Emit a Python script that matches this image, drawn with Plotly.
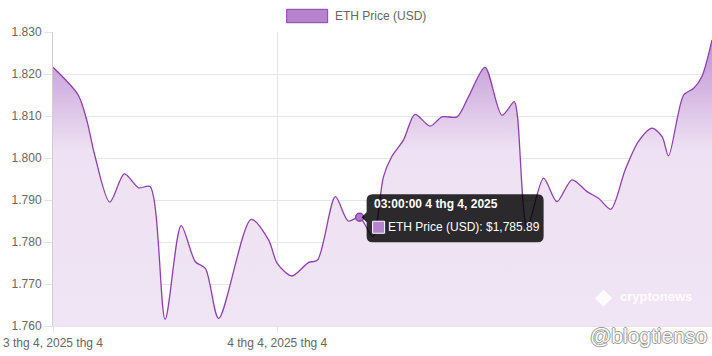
import plotly.graph_objects as go

# ---- data ----
times = [
    "2025-04-03 15:50", "2025-04-03 16:45", "2025-04-03 17:05", "2025-04-03 17:20",
    "2025-04-03 17:54", "2025-04-03 18:26", "2025-04-03 18:57", "2025-04-03 19:22",
    "2025-04-03 19:55", "2025-04-03 20:30", "2025-04-03 21:01", "2025-04-03 21:23",
    "2025-04-03 21:52", "2025-04-03 23:03", "2025-04-03 23:41", "2025-04-04 00:00",
    "2025-04-04 00:32", "2025-04-04 01:08", "2025-04-04 01:28", "2025-04-04 02:07",
    "2025-04-04 02:35", "2025-04-04 03:00", "2025-04-04 03:29", "2025-04-04 03:52",
    "2025-04-04 04:10", "2025-04-04 04:36", "2025-04-04 05:01", "2025-04-04 05:34",
    "2025-04-04 06:00", "2025-04-04 06:33", "2025-04-04 06:58", "2025-04-04 07:34",
    "2025-04-04 08:11", "2025-04-04 08:38", "2025-04-04 08:45", "2025-04-04 09:06",
    "2025-04-04 09:42", "2025-04-04 10:11", "2025-04-04 10:44", "2025-04-04 11:17",
    "2025-04-04 11:42", "2025-04-04 12:09", "2025-04-04 12:40", "2025-04-04 13:09",
    "2025-04-04 13:39", "2025-04-04 14:01", "2025-04-04 14:15", "2025-04-04 14:48",
    "2025-04-04 15:10", "2025-04-04 15:28", "2025-04-04 15:50",
]
prices = [
    1821.6, 1815.0, 1808.5, 1801.2,
    1789.5, 1796.2, 1792.9, 1793.2,
    1761.6, 1783.9, 1775.3, 1773.7,
    1761.8, 1785.4, 1780.5, 1774.9,
    1771.9, 1775.1, 1775.7, 1790.8,
    1785.0, 1785.89, 1781.3, 1795.5,
    1800.3, 1804.3, 1810.4, 1807.6,
    1809.8, 1809.8, 1814.6, 1821.6,
    1810.2, 1813.4, 1809.8, 1783.5,
    1795.2, 1789.6, 1794.8, 1792.0,
    1790.4, 1787.8, 1797.1, 1803.9,
    1807.1, 1805.1, 1800.5, 1815.0,
    1816.6, 1819.4, 1828.1,
]
series_name = "ETH Price (USD)"
x_tick_vals = ["2025-04-03 15:50", "2025-04-04 00:00"]
x_tick_text = ["3 thg 4, 2025 thg 4", "4 thg 4, 2025 thg 4"]
y_tick_vals = [1760, 1770, 1780, 1790, 1800, 1810, 1820, 1830]
hover_time = "2025-04-04 03:00"
hover_price = 1785.89
hover_title = "03:00:00 4 thg 4, 2025"

LINE = "#8e3fae"
SWATCH = "#b683cf"
FONT = "Liberation Sans, Arial, Helvetica, sans-serif"
GRID = "#e5e5e5"

fig = go.Figure()
fig.add_trace(go.Scatter(
    x=times, y=prices, name=series_name, mode="lines", showlegend=False,
    line=dict(color=LINE, width=1.3, shape="spline", smoothing=0.8),
    fill="tozeroy",
    fillgradient=dict(type="vertical", start=1760, stop=1830,
                      colorscale=[[0, "rgba(240,229,244,1)"],
                                  [0.6, "rgba(238,225,243,1)"],
                                  [1, "rgba(188,142,209,1)"]]),
    fillcolor="rgba(180,130,200,0.8)",
    hoverinfo="skip",
))
fig.add_trace(go.Scatter(
    x=[hover_time], y=[hover_price], mode="markers", showlegend=False,
    marker=dict(size=8, color="rgba(180,120,205,1)", line=dict(color=LINE, width=1.5)),
    hoverinfo="skip",
))

# ---- legend (Chart.js style box + label) ----
fig.add_shape(type="rect", xref="paper", yref="paper",
              x0=0.3546, x1=0.4168, y0=1.0316, y1=1.0772,
              fillcolor=SWATCH, line=dict(color=LINE, width=1))
fig.add_annotation(xref="paper", yref="paper", x=0.4249, y=1.0544,
                   xanchor="left", yanchor="middle", showarrow=False,
                   text=series_name, font=dict(family=FONT, size=12, color="#666"))

# ---- tooltip ----
tip_path = ("M 13,23 L 178,23 Q 184,23 184,17 L 184,-19 Q 184,-25 178,-25 "
            "L 13,-25 Q 7,-25 7,-19 L 7,-5 L 2,0 L 7,5 L 7,17 Q 7,23 13,23 Z")
fig.add_shape(type="path", xref="x", yref="y",
              xsizemode="pixel", ysizemode="pixel",
              xanchor=hover_time, yanchor=hover_price,
              path=tip_path, fillcolor="rgba(0,0,0,0.82)", line=dict(width=0))
fig.add_shape(type="rect", xref="x", yref="y",
              xsizemode="pixel", ysizemode="pixel",
              xanchor=hover_time, yanchor=hover_price,
              x0=13, x1=25, y0=-16, y1=-4,
              fillcolor=SWATCH, line=dict(color="white", width=1))
fig.add_annotation(x=hover_time, y=hover_price, xref="x", yref="y",
                   xanchor="left", yanchor="middle", xshift=12, yshift=13,
                   showarrow=False, text=f"<b>{hover_title}</b>",
                   font=dict(family=FONT, size=12, color="white"))
fig.add_annotation(x=hover_time, y=hover_price, xref="x", yref="y",
                   xanchor="left", yanchor="middle", xshift=26, yshift=-10,
                   showarrow=False, text=f"{series_name}: ${hover_price:,.2f}",
                   font=dict(family=FONT, size=12, color="white"))

# ---- watermarks ----
fig.add_annotation(xref="paper", yref="paper", x=0.857, y=0.099,
                   xanchor="left", yanchor="middle", showarrow=False,
                   text="<b>cryptonews</b>",
                   font=dict(family=FONT, size=13, color="rgba(255,255,255,0.9)"))
fig.add_annotation(xref="paper", yref="paper", x=0.82, y=0.099,
                   xanchor="left", yanchor="middle", showarrow=False,
                   text="◆", font=dict(family=FONT, size=22, color="rgba(255,255,255,0.9)"))
fig.add_annotation(xref="paper", yref="paper", x=0.995, y=-0.033,
                   xanchor="right", yanchor="middle", showarrow=False,
                   text="@blogtienso",
                   font=dict(family=FONT, size=21, color="white",
                             shadow="1px 0 0 #9a9a9a, -1px 0 0 #9a9a9a, 0 1px 0 #9a9a9a, 0 -1px 0 #9a9a9a"))

fig.update_layout(
    width=712, height=356,
    margin=dict(l=53, r=0, t=32, b=30),
    paper_bgcolor="white", plot_bgcolor="white",
    separators=",.",
    font=dict(family=FONT, size=12, color="#666"),
    hovermode=False,
    showlegend=False,
)
fig.update_xaxes(
    type="date", range=["2025-04-03 15:50", "2025-04-04 15:50"],
    tickvals=x_tick_vals, ticktext=x_tick_text,
    showgrid=True, gridcolor=GRID, gridwidth=1,
    ticks="outside", ticklen=6, tickcolor=GRID,
    showline=True, linecolor=GRID, zeroline=False,
    tickfont=dict(size=12, color="#666"),
)
fig.update_yaxes(
    range=[1760, 1830], tickvals=y_tick_vals, tickformat=",.0f",
    showgrid=True, gridcolor=GRID, gridwidth=1,
    ticks="outside", ticklen=8, tickcolor=GRID,
    showline=True, linecolor="#cfcfcf", zeroline=False,
    tickfont=dict(size=12, color="#666"),
)

fig.write_html("out.html", config={"displayModeBar": False, "staticPlot": True},
               post_script="document.body.style.margin='0';document.body.style.overflow='hidden';")
